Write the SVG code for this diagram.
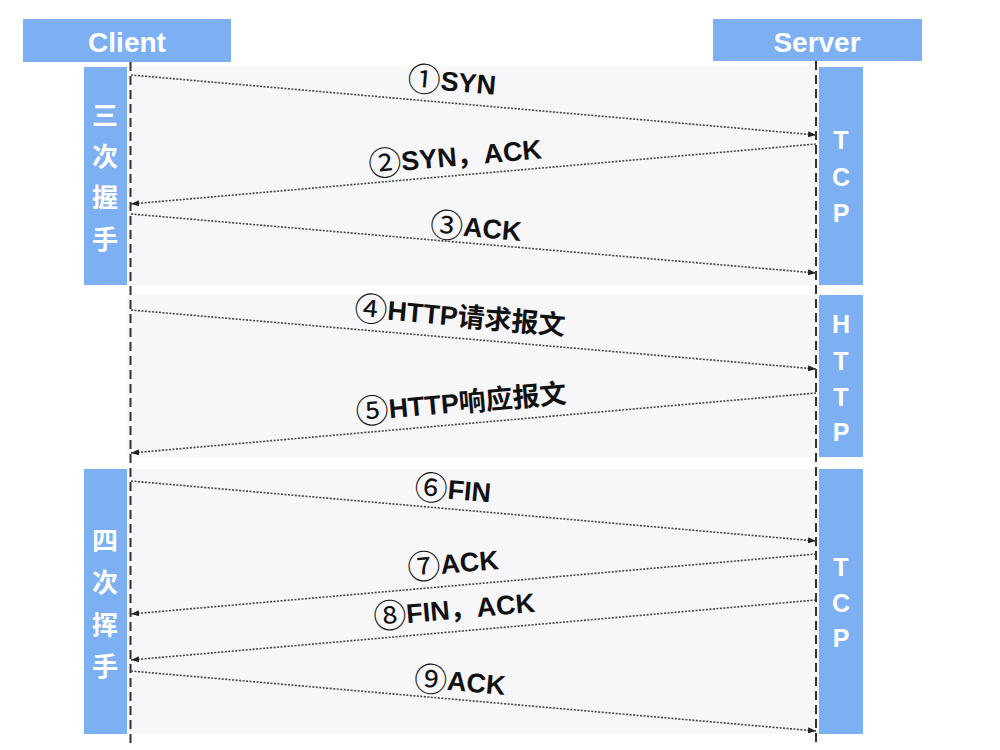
<svg xmlns="http://www.w3.org/2000/svg" width="1000" height="750" viewBox="0 0 1000 750">
<defs>
<style>
.hdr{fill:#7db0f2}
.band{fill:#f7f7fa}
.side{fill:#7db0f2}
.hdrt{font-family:"Liberation Sans","Noto Sans CJK SC",sans-serif;font-weight:bold;font-size:28px;fill:#fff;text-anchor:middle}
.sidet{font-family:"Noto Sans CJK SC",sans-serif;font-weight:bold;font-size:26px;fill:#fff;text-anchor:middle}
.sidel{font-family:"Liberation Sans",sans-serif;font-weight:bold;font-size:25px;fill:#fff;text-anchor:middle}
.life{stroke:#333;stroke-width:2;stroke-dasharray:9,5;fill:none}
.msg{stroke:#444;stroke-width:1.6;stroke-dasharray:2,1.5;fill:none;marker-end:url(#ah)}
.lbl{font-family:"Liberation Sans","Noto Sans CJK SC",sans-serif;font-weight:bold;font-size:27px;fill:#111;text-anchor:middle}
.num{font-family:"Noto Sans CJK SC",sans-serif;font-weight:normal;font-size:33px;baseline-shift:-3px}
</style>
<marker id="ah" viewBox="0 0 8 6" refX="8" refY="3" markerWidth="8" markerHeight="6" markerUnits="userSpaceOnUse" orient="auto">
<path d="M0,0 L8,3 L0,6 z" fill="#222"/>
</marker>
</defs>
<rect width="1000" height="750" fill="#fff"/>

<g id="bands">
<rect class="band" x="127" y="66" width="692" height="219"/>
<rect class="band" x="127" y="295" width="692" height="162"/>
<rect class="band" x="127" y="469" width="692" height="265"/>
</g>

<g id="client">
<rect class="hdr" x="23" y="19" width="208" height="43"/>
<text class="hdrt" x="127" y="52">Client</text>
</g>
<g id="server">
<rect class="hdr" x="713" y="19" width="209" height="42"/>
<text class="hdrt" x="817" y="52">Server</text>
</g>

<g id="handshake">
<rect class="side" x="84" y="67" width="43" height="218"/>
<text class="sidet" x="105" y="125">三</text>
<text class="sidet" x="105" y="166">次</text>
<text class="sidet" x="105" y="207">握</text>
<text class="sidet" x="105" y="249">手</text>
</g>
<g id="wave">
<rect class="side" x="84" y="469" width="43" height="265"/>
<text class="sidet" x="105" y="550">四</text>
<text class="sidet" x="105" y="592">次</text>
<text class="sidet" x="105" y="635">挥</text>
<text class="sidet" x="105" y="676">手</text>
</g>
<g id="tcp1">
<rect class="side" x="819" y="67" width="44" height="218"/>
<text class="sidel" x="841" y="149">T</text>
<text class="sidel" x="841" y="186">C</text>
<text class="sidel" x="841" y="222">P</text>
</g>
<g id="http">
<rect class="side" x="819" y="295" width="44" height="162"/>
<text class="sidel" x="841" y="333">H</text>
<text class="sidel" x="841" y="370">T</text>
<text class="sidel" x="841" y="406">T</text>
<text class="sidel" x="841" y="441">P</text>
</g>
<g id="tcp2">
<rect class="side" x="819" y="469" width="44" height="265"/>
<text class="sidel" x="841" y="576">T</text>
<text class="sidel" x="841" y="612">C</text>
<text class="sidel" x="841" y="647">P</text>
</g>

<g id="lifelines">
<line class="life" x1="130.5" y1="62" x2="130.5" y2="745"/>
<line class="life" x1="816" y1="61" x2="816" y2="745"/>
</g>

<g id="connectors">
<line class="msg" x1="131" y1="75" x2="816" y2="135"/>
<line class="msg" x1="816" y1="144" x2="131" y2="204"/>
<line class="msg" x1="131" y1="214" x2="816" y2="273"/>
<line class="msg" x1="131" y1="310" x2="816" y2="369"/>
<line class="msg" x1="816" y1="393" x2="131" y2="453"/>
<line class="msg" x1="131" y1="481" x2="816" y2="541"/>
<line class="msg" x1="816" y1="554" x2="131" y2="614"/>
<line class="msg" x1="816" y1="600" x2="131" y2="660"/>
<line class="msg" x1="131" y1="671" x2="816" y2="731"/>
</g>

<g id="labels">
<text class="lbl" transform="rotate(5 452 81)" x="452" y="91"><tspan class="num">①</tspan>SYN</text>
<text class="lbl" transform="rotate(-5 455 156)" x="455" y="166"><tspan class="num">②</tspan>SYN，ACK</text>
<text class="lbl" transform="rotate(5 476 227)" x="476" y="237"><tspan class="num">③</tspan>ACK</text>
<text class="lbl" transform="rotate(5 460 316)" x="460" y="326"><tspan class="num">④</tspan>HTTP请求报文</text>
<text class="lbl" transform="rotate(-5 461 402)" x="461" y="412"><tspan class="num">⑤</tspan>HTTP响应报文</text>
<text class="lbl" transform="rotate(5 453 489)" x="453" y="499"><tspan class="num">⑥</tspan>FIN</text>
<text class="lbl" transform="rotate(-5 453 563)" x="453" y="573"><tspan class="num">⑦</tspan>ACK</text>
<text class="lbl" transform="rotate(-5 454 609)" x="454" y="619"><tspan class="num">⑧</tspan>FIN，ACK</text>
<text class="lbl" transform="rotate(5 460 681)" x="460" y="691"><tspan class="num">⑨</tspan>ACK</text>
</g>
</svg>
